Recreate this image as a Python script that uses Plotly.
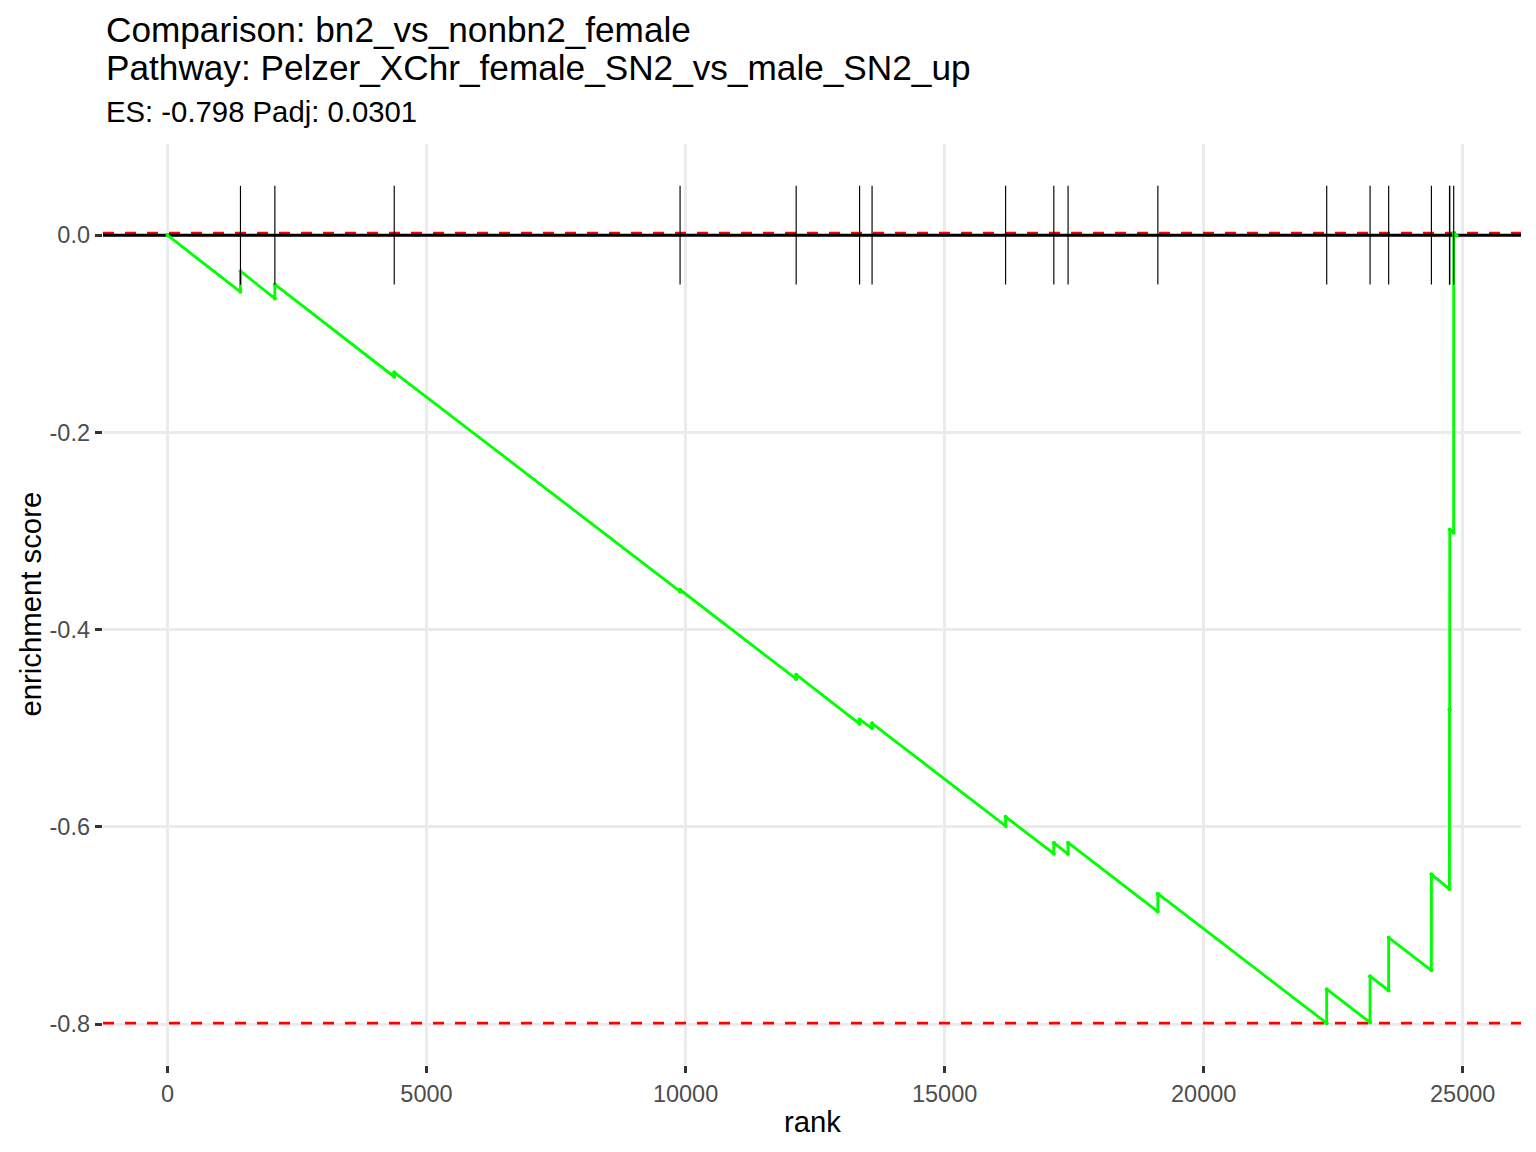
import plotly.graph_objects as go

# ---- data ----
title_line1 = "Comparison: bn2_vs_nonbn2_female"
title_line2 = "Pathway: Pelzer_XChr_female_SN2_vs_male_SN2_up"
subtitle = "ES: -0.798 Padj: 0.0301"
x_label = "rank"
y_label = "enrichment score"

n_genes = 24880
hit_ranks = [1409, 2073, 4377, 9894, 12135, 13359, 13600, 16177, 17108,
             17383, 19116, 22375, 23212, 23571, 24396, 24745, 24750, 24826]
bottoms = [-0.0574, -0.0641, -0.1435, -0.3612, -0.4500, -0.4955, -0.5000,
           -0.5990, -0.6272, -0.6275, -0.6859, -0.7990, -0.7983, -0.7659,
           -0.7454, -0.6630, -0.4812, -0.3016]
tops = [-0.0365, -0.0499, -0.1390, -0.3595, -0.4456, -0.4910, -0.4950,
        -0.5897, -0.6160, -0.6160, -0.6677, -0.7646, -0.7514, -0.7122,
        -0.6481, -0.4810, -0.2985, 0.0022]

x_tickvals = [0, 5000, 10000, 15000, 20000, 25000]
x_ticktext = ["0", "5000", "10000", "15000", "20000", "25000"]
y_tickvals = [-0.8, -0.6, -0.4, -0.2, 0.0]
y_ticktext = ["-0.8", "-0.6", "-0.4", "-0.2", "0.0"]

# ---- build curve like fgsea::plotEnrichment ----
xs = [0]
ys = [0]
for r, b, t in zip(hit_ranks, bottoms, tops):
    xs += [r - 1, r]
    ys += [b, t]
xs.append(n_genes + 1)
ys.append(0)

diff = (max(tops) - min(bottoms)) / 8
tick_x, tick_y = [], []
for r in hit_ranks:
    tick_x += [r, r, None]
    tick_y += [-diff / 2, diff / 2, None]

x_min, x_max = 0, n_genes + 1
x_pad = 0.05 * (x_max - x_min)
x_range = [x_min - x_pad, x_max + x_pad]
y_lo = min(min(bottoms), -diff / 2)
y_hi = max(max(tops), diff / 2)
y_pad = 0.05 * (y_hi - y_lo)
y_range = [y_lo - y_pad, y_hi + y_pad]

W, H = 1536, 1152
ml, mr, mt, mb = 103, 15, 144, 87
ph = H - mt - mb
pw = W - ml - mr

FONT = "Liberation Sans, Arial, Helvetica, sans-serif"
LW = 2.85

fig = go.Figure()
# red dashed lines at max(tops) and min(bottoms), black line at 0
for yv, col, dash in [(max(tops), "#FF0000", "11px,11px"),
                      (min(bottoms), "#FF0000", "11px,11px"),
                      (0, "black", "solid")]:
    fig.add_trace(go.Scatter(
        x=x_range, y=[yv, yv], mode="lines",
        line=dict(color=col, width=LW, dash=dash),
        hoverinfo="skip", showlegend=False, cliponaxis=True,
    ))
fig.add_trace(go.Scatter(
    x=xs, y=ys, mode="lines+markers",
    line=dict(color="#00FF00", width=LW),
    marker=dict(color="#00FF00", size=4),
    hoverinfo="skip", showlegend=False,
))
fig.add_trace(go.Scatter(
    x=tick_x, y=tick_y, mode="lines",
    line=dict(color="black", width=1.15),
    hoverinfo="skip", showlegend=False,
))


def py(pix):
    return (H - mb - pix) / ph


def px(pix):
    return (pix - ml) / pw


annotations = [
    dict(text=title_line1, xref="paper", yref="paper", x=px(104), y=py(29.5),
         xanchor="left", yanchor="middle", showarrow=False,
         font=dict(size=35.2, color="black", family=FONT)),
    dict(text=title_line2, xref="paper", yref="paper", x=px(104), y=py(67.5),
         xanchor="left", yanchor="middle", showarrow=False,
         font=dict(size=35.2, color="black", family=FONT)),
    dict(text=subtitle, xref="paper", yref="paper", x=px(104), y=py(112),
         xanchor="left", yanchor="middle", showarrow=False,
         font=dict(size=29.3, color="black", family=FONT)),
    dict(text=x_label, xref="paper", yref="paper", x=0.5, y=py(1121),
         xanchor="center", yanchor="middle", showarrow=False,
         font=dict(size=29.3, color="black", family=FONT)),
    dict(text=y_label, xref="paper", yref="paper", x=px(30), y=0.5,
         xanchor="center", yanchor="middle", showarrow=False, textangle=-90,
         font=dict(size=29.3, color="black", family=FONT)),
]

axis_common = dict(
    showgrid=True, gridcolor="#EBEBEB", gridwidth=LW,
    zeroline=False, showline=False, automargin=False,
    ticks="outside", ticklen=7.3, tickwidth=LW, tickcolor="#333333",
    tickfont=dict(size=23.5, color="#4D4D4D", family=FONT),
)

fig.update_layout(
    width=W, height=H,
    margin=dict(l=ml, r=mr, t=mt, b=mb, pad=0, autoexpand=False),
    paper_bgcolor="white", plot_bgcolor="white",
    font=dict(family=FONT, color="black"),
    annotations=annotations,
    showlegend=False,
    hovermode=False,
    xaxis=dict(range=x_range, tickvals=x_tickvals, ticktext=x_ticktext, **axis_common),
    yaxis=dict(range=y_range, tickvals=y_tickvals, ticktext=y_ticktext, **axis_common),
)

fig.write_html(
    "out.html",
    config={"displayModeBar": False, "staticPlot": True},
    post_script="document.body.style.margin='0';document.body.style.padding='0';"
                "document.body.style.overflow='hidden';",
)
